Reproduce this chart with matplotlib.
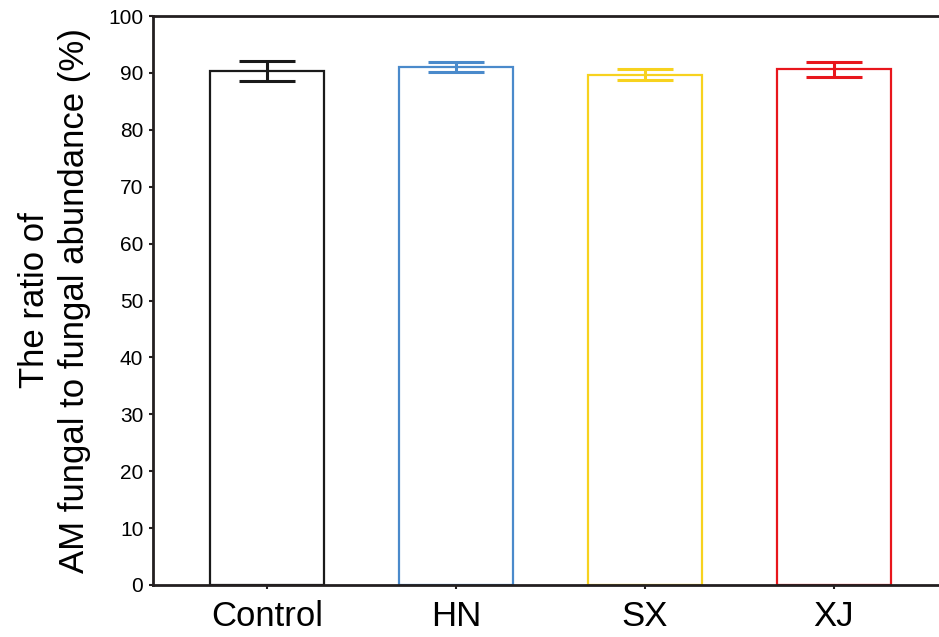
import matplotlib
matplotlib.use("Agg")
import matplotlib.pyplot as plt

categories = ["Control", "HN", "SX", "XJ"]
means = [90.4, 91.0, 89.7, 90.6]
errors = [1.75, 0.9, 1.0, 1.3]
colors = ["#1a1a1a", "#4a8acb", "#f7d21e", "#e8161c"]
yticks = [0, 10, 20, 30, 40, 50, 60, 70, 80, 90, 100]

plt.rcParams['font.family'] = ['Liberation Sans', 'DejaVu Sans']

fig = plt.figure(figsize=(9.39, 6.37), dpi=100)
ax = fig.add_axes([153/939, (637-585)/637, (939-153)/939, (585-16)/637])

x = list(range(len(categories)))
for i, (m, e, c) in enumerate(zip(means, errors, colors)):
    ax.bar(i, m, width=0.6, facecolor='white', edgecolor=c, linewidth=1.6, zorder=2)
    ax.errorbar(i, m, yerr=e, fmt='none', ecolor=c, elinewidth=2.2,
                capsize=20.5, capthick=2.2, zorder=3)

ax.set_xlim(-0.603, 3.556)
ax.set_ylim(0, 100)
ax.set_yticks(yticks)
ax.set_yticklabels([str(v) for v in yticks], fontsize=15)
ax.set_xticks(x)
ax.set_xticklabels(categories, fontsize=25)
ax.tick_params(axis='y', direction='out', length=3, width=1.5, colors='#231f20', pad=4)
ax.tick_params(axis='x', direction='out', length=3, width=1.5, colors='#231f20', pad=8)
for lab in ax.get_xticklabels() + ax.get_yticklabels():
    lab.set_color('black')

for s in ['left', 'bottom', 'top']:
    ax.spines[s].set_linewidth(2)
    ax.spines[s].set_color('#231f20')
ax.spines['right'].set_visible(False)

ax.set_ylabel("The ratio of\nAM fungal to fungal abundance (%)", fontsize=25,
              linespacing=1.3, labelpad=12)

fig.savefig("out.png", dpi=100)
